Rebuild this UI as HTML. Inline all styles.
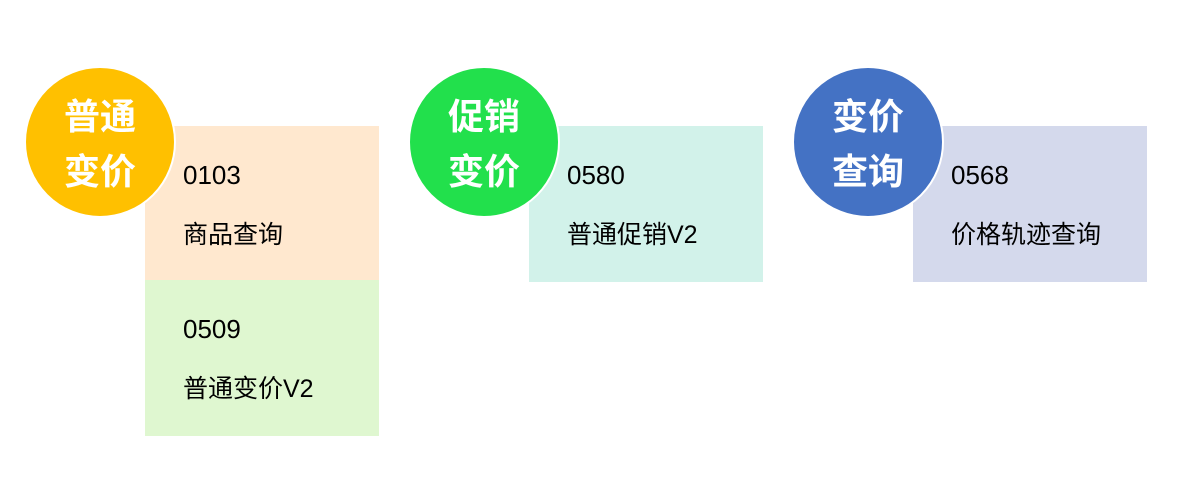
<!DOCTYPE html>
<html><head><meta charset="utf-8"><style>
body{margin:0;width:1191px;height:499px;background:#fff;position:relative;overflow:hidden;font-family:"Liberation Sans","Noto Sans CJK SC",sans-serif}
.b{position:absolute;width:234px}
.c{position:absolute;width:148px;height:148px;border-radius:50%;border:2px solid #fff;color:#fff;font-weight:bold;font-size:36px;line-height:55px;text-align:center;display:flex;flex-direction:column;justify-content:center;font-family:"Noto Sans CJK SC",sans-serif}
.t{position:absolute;font-size:25px;color:#000;white-space:nowrap;font-family:"Liberation Sans","Noto Sans CJK SC",sans-serif}
.n{font-size:26px}
</style></head><body>
<div class="b" style="left:145px;top:126px;height:154px;background:#FFE8CF"></div>
<div class="b" style="left:145px;top:280px;height:156px;background:#DFF7D0"></div>
<div class="b" style="left:529px;top:126px;height:156px;background:#D2F2EA"></div>
<div class="b" style="left:913px;top:126px;height:156px;background:#D4D9EC"></div>
<div class="c" style="left:24px;top:66px;background:#FFC000">普通<br>变价</div>
<div class="c" style="left:408px;top:66px;background:#22E04C">促销<br>变价</div>
<div class="c" style="left:792px;top:66px;background:#4472C4">变价<br>查询</div>
<div class="t n" style="left:183px;top:160px">0103</div>
<div class="t" style="left:183px;top:215px">商品查询</div>
<div class="t n" style="left:183px;top:314px">0509</div>
<div class="t" style="left:183px;top:369px">普通变价V2</div>
<div class="t n" style="left:567px;top:160px">0580</div>
<div class="t" style="left:567px;top:215px">普通促销V2</div>
<div class="t n" style="left:951px;top:160px">0568</div>
<div class="t" style="left:951px;top:215px">价格轨迹查询</div>
</body></html>
